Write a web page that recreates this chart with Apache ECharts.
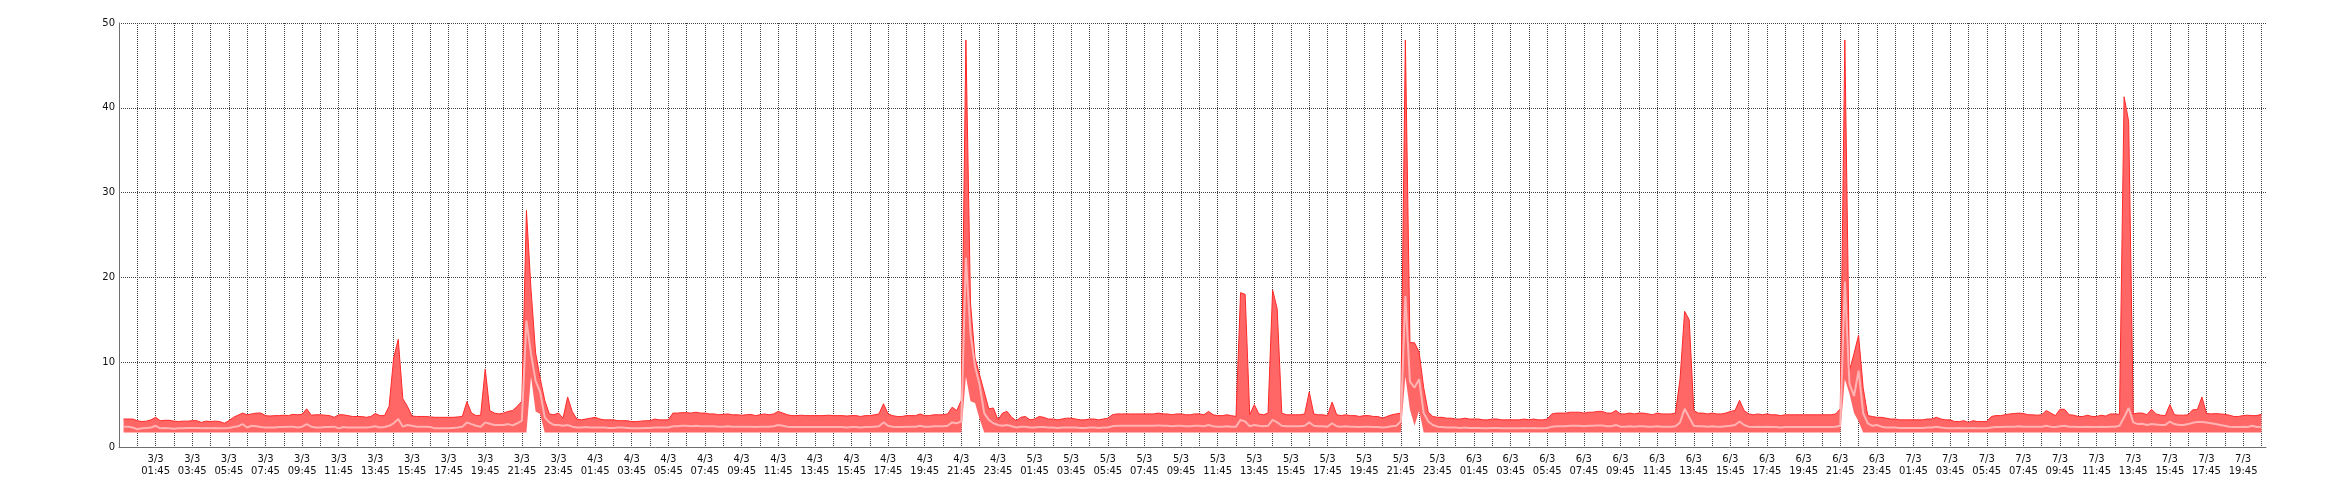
<!DOCTYPE html>
<html><head><meta charset="utf-8">
<script src="https://cdn.jsdelivr.net/npm/echarts@6/dist/echarts.min.js"></script>
<style>html,body{margin:0;padding:0;background:#fff}#c{width:2340px;height:500px}</style>
</head><body><div id="c"></div>
<script>
// Time slots every 15 minutes; slot 0 = 2/3 23:45 (axis start), samples start at slot 1 (3/3 00:00)
const slotMinutes = 15;
const axisStartDay = 2;
const axisStartMinutesOfDay = 23 * 60 + 45;
const monthLabel = 3;
const leadingEmptySlots = 1;
const trailingEmptySlots = 1;
const yTicks = [0, 10, 20, 30, 40, 50];

const maxVals = [
3.3,3.3,3.3,3.1,3.0,3.05,3.2,3.5,
3.1,3.15,3.15,3.05,3.0,3.05,3.05,3.1,
3.1,2.9,3.05,3.0,3.05,3.0,2.8,3.1,
3.5,3.75,4.0,3.8,3.9,4.0,4.0,3.7,
3.65,3.7,3.7,3.75,3.7,3.85,3.8,3.85,
4.5,3.75,3.8,3.8,3.75,3.7,3.5,3.8,
3.8,3.7,3.6,3.6,3.6,3.5,3.6,3.95,
3.7,3.7,4.8,10.5,12.7,5.7,4.8,3.65,
3.6,3.6,3.6,3.55,3.5,3.5,3.5,3.5,
3.5,3.55,3.6,5.35,4.0,3.7,3.75,9.2,
4.3,4.0,3.9,4.0,4.2,4.3,4.8,5.4,
27.9,18.6,11.1,8.1,5.5,3.9,3.8,4.0,
3.4,5.9,4.2,3.3,3.2,3.3,3.4,3.5,
3.3,3.2,3.2,3.2,3.1,3.1,3.1,3.0,
3.0,3.05,3.1,3.1,3.3,3.2,3.2,3.2,
4.0,4.0,4.05,4.05,4.0,4.1,4.0,4.0,
3.9,3.9,3.8,3.85,3.9,3.8,3.8,3.75,
3.8,3.85,3.7,3.8,3.9,3.8,3.9,4.2,
4.0,3.8,3.7,3.7,3.75,3.7,3.7,3.7,
3.7,3.7,3.75,3.7,3.7,3.7,3.65,3.7,
3.7,3.6,3.7,3.7,3.8,3.9,5.1,3.9,
3.7,3.6,3.6,3.7,3.7,3.7,3.9,3.7,
3.7,3.8,3.8,3.8,3.9,4.7,4.3,5.5,
48,17.0,10.5,8.5,6.5,4.5,4.6,3.2,
4.0,4.2,3.5,3.1,3.5,3.6,3.2,3.3,
3.6,3.5,3.3,3.3,3.2,3.3,3.4,3.4,
3.3,3.2,3.2,3.3,3.3,3.2,3.3,3.4,
3.8,3.9,3.9,3.9,3.9,3.9,3.9,3.9,
3.9,3.9,4.0,3.9,3.9,3.8,3.9,3.9,
3.8,3.8,3.9,3.9,3.8,4.2,3.8,3.7,
3.7,3.8,3.7,3.6,18.2,18.0,3.8,5.0,
3.9,3.8,4.0,18.5,16.3,4.0,3.8,3.8,
3.8,3.8,3.9,6.5,3.9,3.8,3.8,3.7,
5.3,3.8,3.7,3.8,3.7,3.7,3.6,3.7,
3.7,3.6,3.6,3.4,3.6,3.8,3.9,4.0,
48,12.3,12.3,11.2,7.0,4.1,3.6,3.5,
3.5,3.4,3.4,3.3,3.3,3.4,3.3,3.3,
3.3,3.2,3.2,3.3,3.3,3.2,3.2,3.2,
3.2,3.2,3.3,3.2,3.3,3.2,3.2,3.3,
3.9,4.0,4.0,4.0,4.1,4.1,4.1,4.0,
4.1,4.1,4.2,4.2,4.0,4.0,4.3,3.9,
3.9,4.0,3.9,4.0,4.0,3.9,3.8,4.0,
3.9,3.9,3.9,4.0,8.0,16.0,15.0,4.3,
4.0,4.0,3.9,4.0,3.9,3.9,4.0,4.2,
4.3,5.5,4.3,3.9,3.8,3.9,3.8,3.9,
3.8,3.8,3.7,3.8,3.8,3.8,3.8,3.8,
3.8,3.8,3.8,3.8,3.8,3.8,3.9,4.5,
48,9.0,11.0,13.2,7.0,3.7,3.6,3.5,
3.5,3.4,3.3,3.3,3.2,3.2,3.2,3.2,
3.2,3.2,3.3,3.3,3.5,3.3,3.2,3.2,
3.0,3.0,3.1,2.9,3.1,3.0,3.0,3.0,
3.6,3.7,3.7,3.8,3.9,3.95,4.0,3.95,
3.8,3.8,3.75,3.8,4.3,4.0,3.7,4.45,
4.45,3.8,3.75,3.6,3.6,3.75,3.6,3.6,
3.75,3.65,3.9,3.9,3.85,41.3,38.4,3.9,
4.0,4.0,3.8,4.45,3.9,3.75,3.7,5.0,
3.8,3.75,3.75,3.8,4.4,4.4,5.9,3.95,
3.9,3.95,3.9,3.85,3.75,3.6,3.6,3.7,
3.75,3.7,3.7,3.85
];

const avgVals = [
2.4,2.4,2.3,2.1,2.2,2.25,2.3,2.5,
2.2,2.25,2.2,2.15,2.2,2.2,2.25,2.25,
2.25,2.2,2.25,2.2,2.25,2.2,2.2,2.25,
2.35,2.45,2.7,2.3,2.5,2.45,2.35,2.3,
2.3,2.3,2.35,2.35,2.4,2.4,2.3,2.4,
2.7,2.4,2.3,2.3,2.35,2.35,2.4,2.2,
2.35,2.3,2.3,2.3,2.3,2.3,2.35,2.45,
2.3,2.35,2.5,2.8,3.3,2.4,2.6,2.5,
2.4,2.4,2.4,2.35,2.2,2.2,2.2,2.2,
2.25,2.3,2.4,2.9,2.7,2.5,2.4,2.9,
2.75,2.6,2.6,2.6,2.7,2.55,2.8,3.1,
14.9,11.0,7.8,6.5,3.5,2.9,2.6,2.6,
2.5,2.6,2.4,2.3,2.3,2.35,2.3,2.3,
2.3,2.3,2.25,2.25,2.3,2.3,2.25,2.2,
2.2,2.2,2.25,2.25,2.3,2.3,2.3,2.3,
2.45,2.45,2.5,2.5,2.45,2.5,2.45,2.45,
2.45,2.45,2.4,2.4,2.45,2.4,2.4,2.4,
2.4,2.4,2.35,2.4,2.4,2.4,2.45,2.6,
2.5,2.4,2.35,2.35,2.35,2.35,2.35,2.35,
2.35,2.35,2.35,2.35,2.35,2.35,2.3,2.35,
2.35,2.3,2.35,2.35,2.4,2.45,2.9,2.5,
2.4,2.35,2.35,2.4,2.4,2.4,2.5,2.4,
2.4,2.45,2.45,2.45,2.5,2.9,2.8,3.0,
22.3,13.4,9.5,7.3,4.0,3.2,2.8,2.6,
2.5,2.6,2.45,2.3,2.4,2.4,2.3,2.3,
2.35,2.35,2.3,2.3,2.25,2.3,2.3,2.3,
2.3,2.25,2.25,2.3,2.3,2.25,2.3,2.3,
2.45,2.5,2.5,2.5,2.5,2.5,2.5,2.5,
2.5,2.5,2.55,2.5,2.5,2.45,2.5,2.5,
2.45,2.45,2.5,2.5,2.45,2.6,2.45,2.4,
2.4,2.45,2.4,2.4,3.2,3.0,2.45,2.6,
2.5,2.45,2.5,3.2,2.9,2.5,2.45,2.45,
2.45,2.45,2.5,2.9,2.5,2.45,2.45,2.4,
2.8,2.45,2.4,2.45,2.4,2.4,2.35,2.4,
2.4,2.35,2.35,2.3,2.35,2.45,2.5,3.0,
17.8,7.7,7.0,8.0,4.0,3.0,2.6,2.4,
2.35,2.3,2.3,2.3,2.25,2.3,2.25,2.25,
2.25,2.2,2.2,2.25,2.25,2.2,2.2,2.2,
2.2,2.2,2.25,2.2,2.25,2.2,2.2,2.25,
2.4,2.45,2.45,2.45,2.5,2.5,2.5,2.45,
2.5,2.5,2.55,2.55,2.45,2.45,2.6,2.4,
2.4,2.45,2.4,2.45,2.45,2.4,2.4,2.45,
2.4,2.4,2.4,2.45,2.9,4.5,3.5,2.5,
2.45,2.45,2.4,2.45,2.4,2.4,2.45,2.5,
2.6,3.0,2.6,2.4,2.35,2.4,2.35,2.4,
2.35,2.35,2.3,2.35,2.35,2.35,2.35,2.35,
2.35,2.35,2.35,2.35,2.35,2.35,2.4,2.5,
19.5,7.5,6.0,9.0,4.0,2.8,2.5,2.6,
2.4,2.3,2.3,2.3,2.25,2.25,2.25,2.25,
2.25,2.25,2.3,2.3,2.4,2.3,2.25,2.2,
2.2,2.25,2.2,2.2,2.25,2.2,2.2,2.2,
2.3,2.35,2.35,2.4,2.4,2.4,2.45,2.4,
2.4,2.4,2.4,2.4,2.5,2.4,2.35,2.45,
2.5,2.4,2.4,2.35,2.35,2.4,2.35,2.35,
2.4,2.35,2.4,2.4,2.5,3.5,4.6,2.9,
2.7,2.75,2.6,2.7,2.65,2.6,2.6,3.0,
2.7,2.6,2.6,2.7,2.85,2.95,2.95,2.9,
2.8,2.7,2.6,2.5,2.4,2.35,2.35,2.4,
2.35,2.5,2.35,2.4
];

const minVals = [
1.7,1.7,1.7,1.7,1.7,1.7,1.7,1.7, 1.7,1.7,1.7,1.7,1.7,1.7,1.7,1.7,
1.7,1.7,1.7,1.7,1.7,1.7,1.7,1.7, 1.7,1.7,1.7,1.7,1.7,1.7,1.7,1.7,
1.7,1.7,1.7,1.7,1.7,1.7,1.7,1.7, 1.7,1.7,1.7,1.7,1.7,1.7,1.7,1.7,
1.7,1.7,1.7,1.7,1.7,1.7,1.7,1.7, 1.7,1.7,1.7,1.7,1.7,1.7,1.7,1.7,
1.7,1.7,1.7,1.7,1.7,1.7,1.7,1.7, 1.7,1.7,1.7,1.7,1.7,1.7,1.7,1.7,
1.7,1.7,1.7,1.7,1.7,1.7,1.7,1.7,
1.7,8.3,4.2,3.9,1.7,1.7,1.7,1.7,
1.7,1.7,1.7,1.7,1.7,1.7,1.7,1.7, 1.7,1.7,1.7,1.7,1.7,1.7,1.7,1.7,
1.7,1.7,1.7,1.7,1.7,1.7,1.7,1.7, 1.7,1.7,1.7,1.7,1.7,1.7,1.7,1.7,
1.7,1.7,1.7,1.7,1.7,1.7,1.7,1.7, 1.7,1.7,1.7,1.7,1.7,1.7,1.7,1.7,
1.7,1.7,1.7,1.7,1.7,1.7,1.7,1.7, 1.7,1.7,1.7,1.7,1.7,1.7,1.7,1.7,
1.7,1.7,1.7,1.7,1.7,1.7,1.7,1.7, 1.7,1.7,1.7,1.7,1.7,1.7,1.7,1.7,
1.7,1.7,1.7,1.7,1.7,1.7,1.7,1.7,
8.3,5.4,5.2,3.3,1.7,1.7,1.7,1.7,
1.7,1.7,1.7,1.7,1.7,1.7,1.7,1.7, 1.7,1.7,1.7,1.7,1.7,1.7,1.7,1.7,
1.7,1.7,1.7,1.7,1.7,1.7,1.7,1.7, 1.7,1.7,1.7,1.7,1.7,1.7,1.7,1.7,
1.7,1.7,1.7,1.7,1.7,1.7,1.7,1.7, 1.7,1.7,1.7,1.7,1.7,1.7,1.7,1.7,
1.7,1.7,1.7,1.7,1.7,1.7,1.7,1.7, 1.7,1.7,1.7,1.7,1.7,1.7,1.7,1.7,
1.7,1.7,1.7,1.7,1.7,1.7,1.7,1.7, 1.7,1.7,1.7,1.7,1.7,1.7,1.7,1.7,
1.7,1.7,1.7,1.7,1.7,1.7,1.7,1.7,
8.3,4.4,2.5,4.3,1.7,1.7,1.7,1.7,
1.7,1.7,1.7,1.7,1.7,1.7,1.7,1.7, 1.7,1.7,1.7,1.7,1.7,1.7,1.7,1.7,
1.7,1.7,1.7,1.7,1.7,1.7,1.7,1.7, 1.7,1.7,1.7,1.7,1.7,1.7,1.7,1.7,
1.7,1.7,1.7,1.7,1.7,1.7,1.7,1.7, 1.7,1.7,1.7,1.7,1.7,1.7,1.7,1.7,
1.7,1.7,1.7,1.7,1.7,1.7,1.7,1.7, 1.7,1.7,1.7,1.7,1.7,1.7,1.7,1.7,
1.7,1.7,1.7,1.7,1.7,1.7,1.7,1.7, 1.7,1.7,1.7,1.7,1.7,1.7,1.7,1.7,
1.7,1.7,1.7,1.7,1.7,1.7,1.7,1.7,
8.0,6.3,4.0,3.0,1.7,1.7,1.7,1.7,
1.7,1.7,1.7,1.7,1.7,1.7,1.7,1.7, 1.7,1.7,1.7,1.7,1.7,1.7,1.7,1.7,
1.7,1.7,1.7,1.7,1.7,1.7,1.7,1.7, 1.7,1.7,1.7,1.7,1.7,1.7,1.7,1.7,
1.7,1.7,1.7,1.7,1.7,1.7,1.7,1.7, 1.7,1.7,1.7,1.7,1.7,1.7,1.7,1.7,
1.7,1.7,1.7,1.7,1.7,1.7,1.7,1.7, 1.7,1.7,1.7,1.7,1.7,1.7,1.7,1.7,
1.7,1.7,1.7,1.7,1.7,1.7,1.7,1.7, 1.7,1.7,1.7,1.7,1.7,1.7,1.7,1.7,
1.7,1.7,1.7,1.7
];

function pad(n) { return (n < 10 ? '0' : '') + n; }
const slotCount = leadingEmptySlots + maxVals.length + trailingEmptySlots;
const categories = [];
for (let k = 0; k < slotCount; k++) {
  const total = axisStartMinutesOfDay + k * slotMinutes;
  const day = axisStartDay + Math.floor(total / 1440);
  const m = total % 1440;
  categories.push(day + '/' + monthLabel + '\n' + pad(Math.floor(m / 60)) + ':' + pad(m % 60));
}
function padSeries(arr) {
  const out = [];
  for (let k = 0; k < leadingEmptySlots; k++) out.push(null);
  arr.forEach(v => out.push(v));
  for (let k = 0; k < trailingEmptySlots; k++) out.push(null);
  return out;
}
const baseData = padSeries(minVals);
const rangeData = padSeries(maxVals.map((v, i) => Math.max(0, +(v - minVals[i]).toFixed(3))));
const avgData = padSeries(avgVals);

const slotsPerHour = 60 / slotMinutes;
const isHourSlot = (i) => i % slotsPerHour === 0;
const isLabelSlot = (i) => i > 0 && i % (2 * slotsPerHour) === 0;

const chart = echarts.init(document.getElementById('c'), null, { renderer: 'canvas' });
const font = 'DejaVu Sans';
chart.setOption({
  animation: false,
  backgroundColor: '#ffffff',
  grid: { left: 119, right: 74, top: 23, bottom: 53, containLabel: false },
  xAxis: {
    type: 'category', data: categories, boundaryGap: false,
    axisLine: { show: true, onZero: false, lineStyle: { color: '#6e6e6e', width: 1 } },
    axisTick: { show: false, interval: (i) => isHourSlot(i) },
    splitLine: { show: true, interval: (i) => isHourSlot(i) && i > 0, lineStyle: { color: '#444', width: 1, type: [1, 1] } },
    axisLabel: { show: true, interval: (i) => isLabelSlot(i), fontFamily: font, fontSize: 10, color: '#111', lineHeight: 12, margin: 6, hideOverlap: false }
  },
  yAxis: {
    type: 'value', min: yTicks[0], max: yTicks[yTicks.length - 1], interval: 10,
    axisLine: { show: true, lineStyle: { color: '#6e6e6e', width: 1 } },
    axisTick: { show: false },
    splitLine: { show: true, showMinLine: false, lineStyle: { color: '#444', width: 1, type: [1, 1] } },
    axisLabel: { fontFamily: font, fontSize: 10, color: '#111', margin: 4 }
  },
  series: [
    { name: 'min', type: 'line', stack: 'band', data: baseData, symbol: 'none', silent: true,
      lineStyle: { width: 0, opacity: 0 }, z: 2 },
    { name: 'max', type: 'line', stack: 'band', data: rangeData, symbol: 'none', silent: true,
      lineStyle: { color: '#ff2a2a', width: 1 }, areaStyle: { color: '#ff6666', opacity: 1 }, z: 2 },
    { name: 'avg', type: 'line', data: avgData, symbol: 'none', silent: true,
      lineStyle: { color: '#ffb3b3', width: 2 }, z: 3 }
  ]
});
</script>
</body></html>
